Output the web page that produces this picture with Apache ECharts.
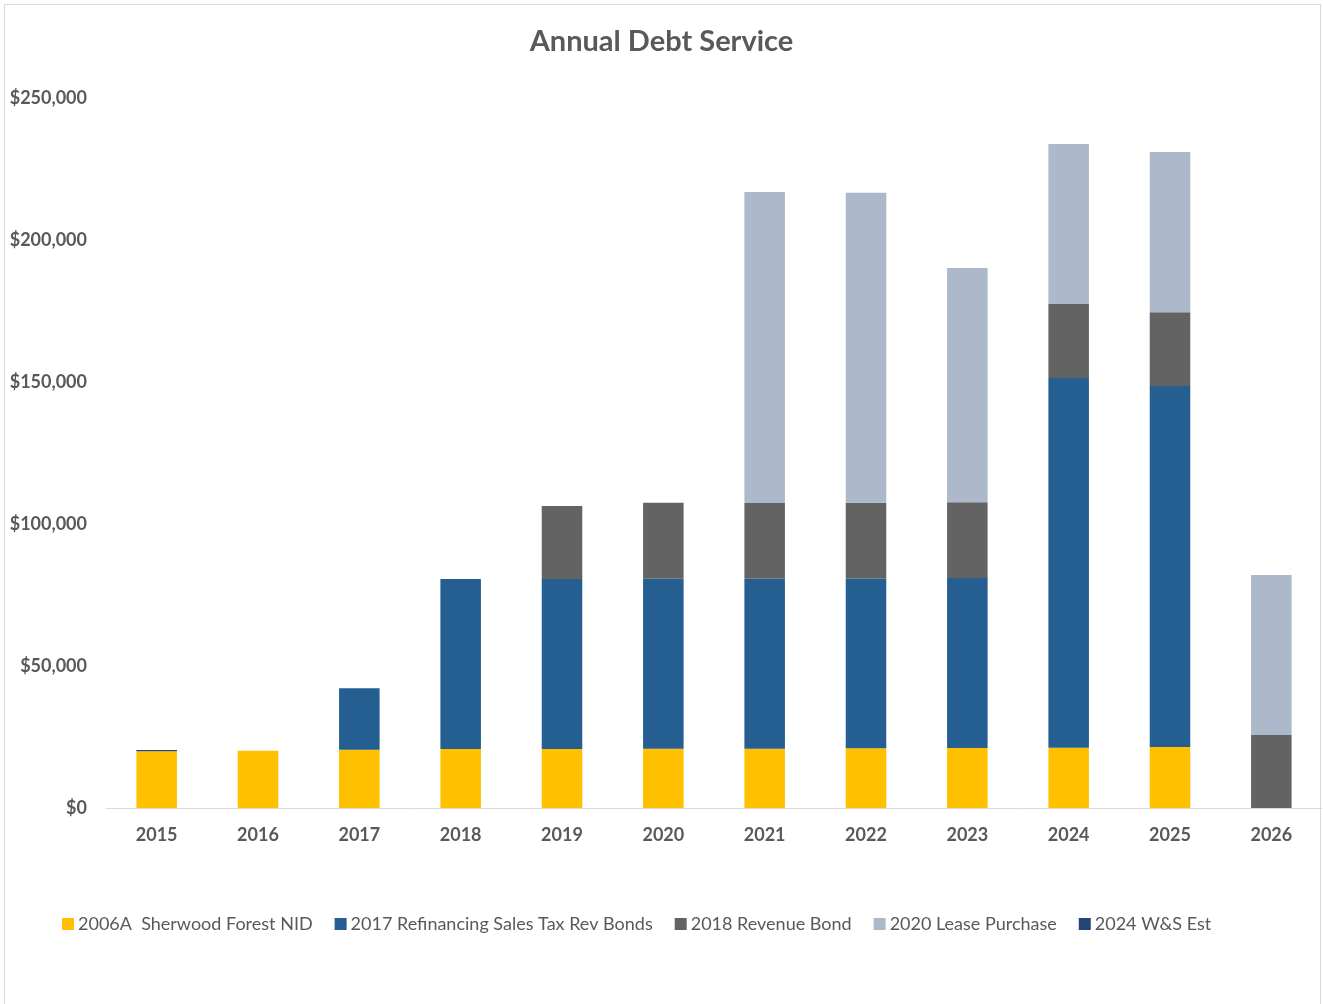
<!DOCTYPE html>
<html>
<head>
<meta charset="utf-8">
<script src="https://cdn.jsdelivr.net/npm/echarts@6/dist/echarts.min.js"></script>
<style>
html,body{margin:0;padding:0;background:#fff;}
#frame{position:absolute;left:4px;top:4px;width:1317px;height:1010px;border:1px solid #D9D9D9;box-sizing:border-box;}
#chart{position:absolute;left:0;top:0;width:1323px;height:1004px;}
</style>
</head>
<body>
<div id="frame"></div>
<div id="chart"></div>
<script>
const years = ['2015','2016','2017','2018','2019','2020','2021','2022','2023','2024','2025','2026'];
const sherwood2006A = [20000, 20200, 20500, 20800, 20800, 20900, 20900, 21000, 21100, 21200, 21500, 0];
const refi2017 = [0, 0, 21700, 59800, 59800, 59800, 59800, 59800, 59900, 130200, 127100, 0];
const revenue2018 = [0, 0, 0, 0, 25700, 26800, 26700, 26700, 26700, 26100, 26000, 25700];
const lease2020 = [0, 0, 0, 0, 0, 0, 109500, 109100, 82400, 56300, 56400, 56300];
const ws2024 = [400, 0, 0, 0, 0, 0, 0, 0, 0, 0, 0, 0];
const yTicks = [0, 50000, 100000, 150000, 200000, 250000];

const chart = echarts.init(document.getElementById('chart'), null, {renderer:'canvas'});
const font = 'Lato, "Open Sans", sans-serif';
function mk(name, data, color) {
  return {name, type:'bar', stack:'total', data, barWidth:'40%',
    itemStyle:{color}, emphasis:{disabled:true}};
}
chart.setOption({
  animation:false,
  title:{text:'Annual Debt Service', left:'center', top:22,
    textStyle:{fontFamily:font, fontWeight:'bold', fontSize:29, color:'#595959'}},
  grid:{left:106, right:1, top:98, bottom:196, containLabel:false},
  legend:{bottom:66, left:57, itemWidth:12, itemHeight:12, itemGap:22,
    icon:'rect',
    textStyle:{fontFamily:font, fontSize:18, color:'#595959', padding:[0,0,0,-1]},
    data:['2006A  Sherwood Forest NID','2017 Refinancing Sales Tax Rev Bonds','2018 Revenue Bond','2020 Lease Purchase','2024 W&S Est']},
  xAxis:{type:'category', data:years,
    axisLine:{lineStyle:{color:'#D9D9D9', width:1}}, axisTick:{show:false},
    axisLabel:{fontFamily:font, fontWeight:'bold', fontSize:18, color:'#595959', margin:18}},
  yAxis:{type:'value', min:yTicks[0], max:yTicks[yTicks.length-1], interval:50000,
    splitLine:{show:false}, axisLine:{show:false}, axisTick:{show:false},
    axisLabel:{fontFamily:font, fontWeight:'bold', fontSize:18, color:'#595959', margin:19,
      formatter:v=>'$'+v.toLocaleString('en-US')}},
  series:[
    mk('2006A  Sherwood Forest NID', sherwood2006A, '#FFC000'),
    mk('2017 Refinancing Sales Tax Rev Bonds', refi2017, '#255E91'),
    mk('2018 Revenue Bond', revenue2018, '#636363'),
    mk('2020 Lease Purchase', lease2020, '#ADB9CA'),
    mk('2024 W&S Est', ws2024, '#264478')
  ]
});
</script>
</body>
</html>
